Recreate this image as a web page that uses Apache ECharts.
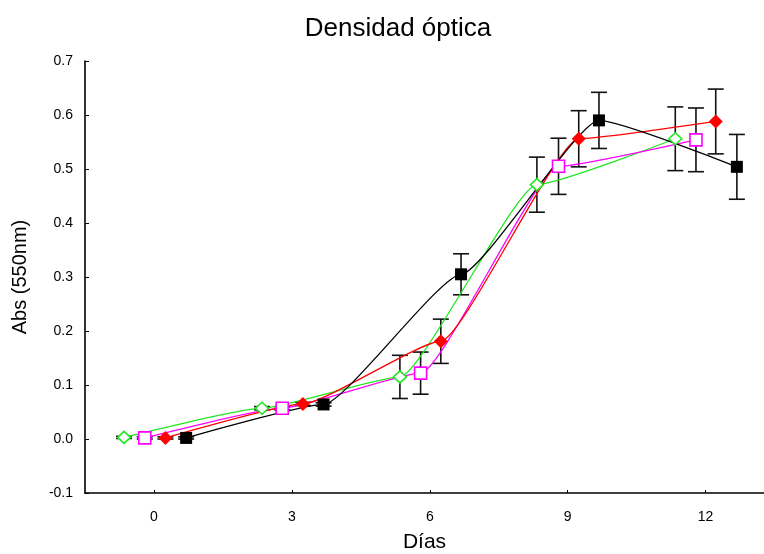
<!DOCTYPE html>
<html>
<head>
<meta charset="utf-8">
<script src="https://cdn.jsdelivr.net/npm/echarts@6/dist/echarts.min.js"></script>
<style>html,body{margin:0;padding:0;background:#fff}#c{width:764px;height:554px}</style>
</head>
<body>
<div id="c"></div>
<script>
// Data
const titleText = 'Densidad óptica';
const xName = 'Días';
const yName = 'Abs (550nm)';
const xTickValues = [0, 3, 6, 9, 12];

const greenX = [-0.65, 2.35, 5.35, 8.33, 11.34];
const greenY = [0.003, 0.057, 0.115, 0.471, 0.556];
const greenErr = [0.002, 0.003, 0.040, 0.051, 0.059];

const pinkX = [-0.20, 2.79, 5.80, 8.80, 11.79];
const pinkY = [0.002, 0.057, 0.122, 0.505, 0.554];
const pinkErr = [0.002, 0.003, 0.039, 0.052, 0.059];

const redX = [0.25, 3.24, 6.24, 9.24, 12.22];
const redY = [0.002, 0.065, 0.181, 0.556, 0.588];
const redErr = [0.002, 0.003, 0.041, 0.052, 0.060];

const blackX = [0.70, 3.69, 6.68, 9.68, 12.68];
const blackY = [0.002, 0.064, 0.305, 0.590, 0.504];
const blackErr = [0.002, 0.003, 0.038, 0.052, 0.060];

const chart = echarts.init(document.getElementById('c'));

function pts(xs, ys) { return xs.map((x, i) => [x, ys[i]]); }
function errData(xs, ys, es) { return xs.map((x, i) => [x, ys[i] - es[i], ys[i] + es[i]]); }

function lineSeries(name, xs, ys, color, symbol, size, hollow) {
  return {
    type: 'line', name: name, data: pts(xs, ys), smooth: 0.15, smoothMonotone: 'x',
    symbol: symbol, symbolSize: size, z: 5,
    lineStyle: { color: color, width: 1.3 },
    itemStyle: hollow ? { color: '#fff', borderColor: color, borderWidth: 1.6 } : { color: color, borderWidth: 0 },
    emphasis: { disabled: true }
  };
}

function errSeries(xs, ys, es) {
  return {
    type: 'custom', z: 3, silent: true,
    data: errData(xs, ys, es),
    renderItem: function (params, api) {
      const x = api.value(0);
      const lo = api.coord([x, api.value(1)]);
      const hi = api.coord([x, api.value(2)]);
      const hw = 8;
      const st = { stroke: '#111', lineWidth: 1.6 };
      return {
        type: 'group',
        children: [
          { type: 'line', shape: { x1: lo[0], y1: lo[1], x2: hi[0], y2: hi[1] }, style: st },
          { type: 'line', shape: { x1: lo[0] - hw, y1: lo[1], x2: lo[0] + hw, y2: lo[1] }, style: st },
          { type: 'line', shape: { x1: hi[0] - hw, y1: hi[1], x2: hi[0] + hw, y2: hi[1] }, style: st }
        ]
      };
    }
  };
}

const font = 'Liberation Sans, Arial, sans-serif';

chart.setOption({
  animation: false,
  backgroundColor: '#fff',
  title: {
    text: titleText, left: 393, top: 11, textAlign: 'center',
    textStyle: { fontFamily: font, fontSize: 26, fontWeight: 'normal', color: '#000' }
  },
  grid: { left: 85, right: 0, top: 61, bottom: 61, containLabel: false, outerBoundsMode: 'none' },
  xAxis: {
    type: 'value', min: -1.5, max: 13.27,
    name: xName, nameLocation: 'middle', nameGap: 39,
    nameTextStyle: { fontFamily: font, fontSize: 21, color: '#000' },
    axisLine: { show: true, onZero: false, lineStyle: { color: '#000', width: 1.6 } },
    axisTick: { show: true, inside: true, length: 3, customValues: xTickValues, lineStyle: { color: '#000' } },
    axisLabel: { customValues: xTickValues, margin: 17, fontFamily: font, fontSize: 14, color: '#000' },
    splitLine: { show: false }
  },
  yAxis: {
    type: 'value', min: -0.1, max: 0.7, interval: 0.1,
    name: yName, nameLocation: 'middle', nameGap: 55, nameRotate: 90,
    nameTextStyle: { fontFamily: font, fontSize: 20, color: '#000' },
    axisLine: { show: true, onZero: false, lineStyle: { color: '#000', width: 1.6 } },
    axisTick: { show: true, inside: true, length: 4, lineStyle: { color: '#000' } },
    axisLabel: { margin: 12, fontFamily: font, fontSize: 14, color: '#000', padding: [6, 0, 0, 0],
      formatter: v => (Math.round(v * 10) / 10).toFixed(1) },
    splitLine: { show: false }
  },
  series: [
    errSeries(greenX, greenY, greenErr),
    errSeries(pinkX, pinkY, pinkErr),
    errSeries(redX, redY, redErr),
    errSeries(blackX, blackY, blackErr),
    lineSeries('green', greenX, greenY, '#22e622', 'diamond', [13, 12], true),
    lineSeries('pink', pinkX, pinkY, '#ff00ff', 'rect', [12, 12], true),
    lineSeries('red', redX, redY, '#ff0000', 'diamond', [14, 14], false),
    lineSeries('black', blackX, blackY, '#000000', 'rect', [12, 12], false)
  ]
});
</script>
</body>
</html>
